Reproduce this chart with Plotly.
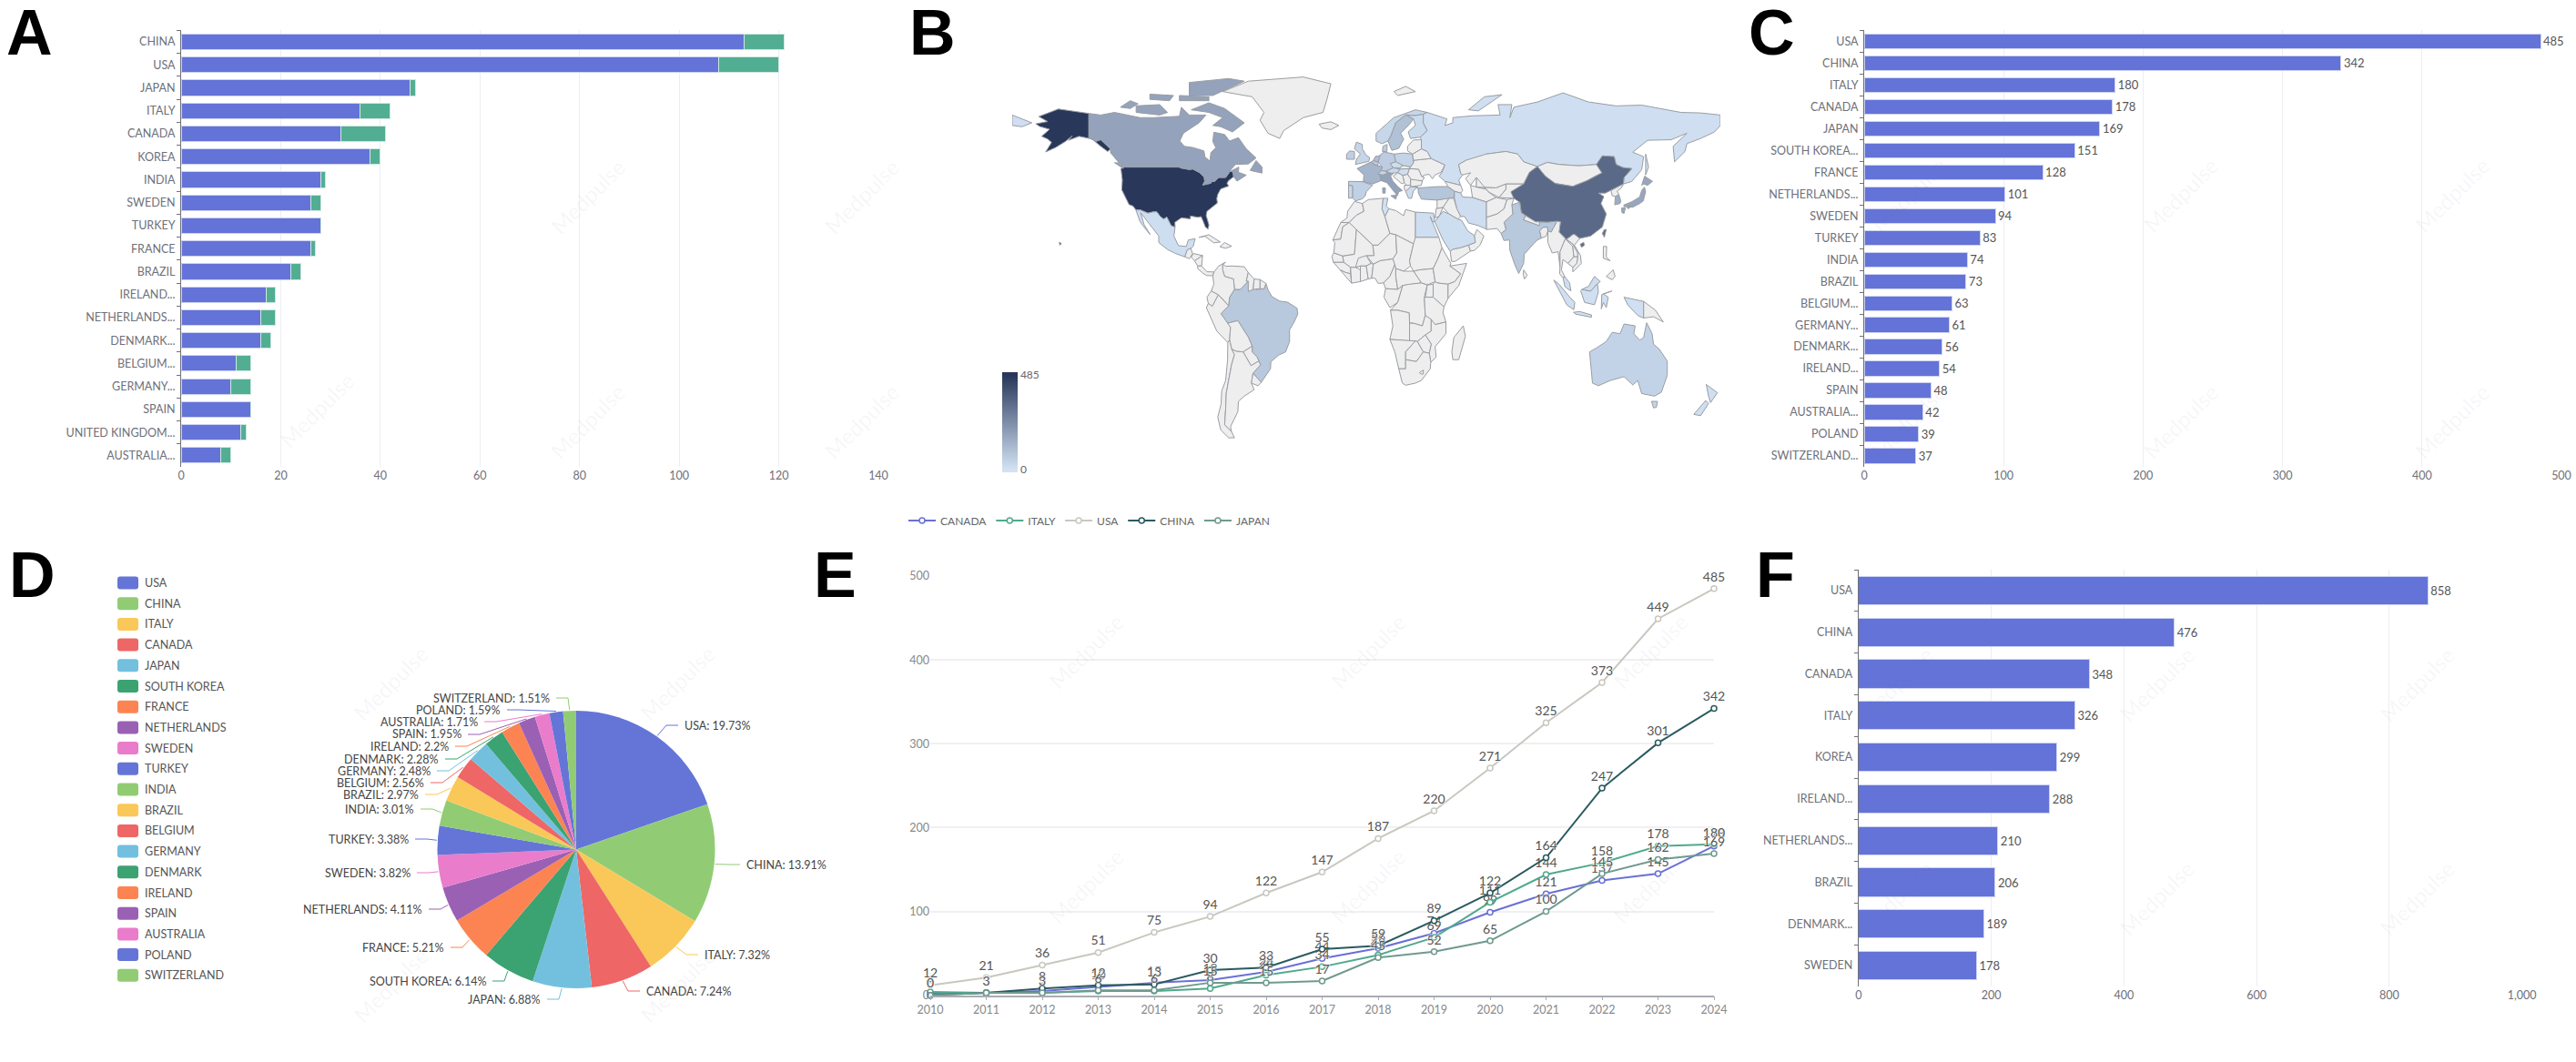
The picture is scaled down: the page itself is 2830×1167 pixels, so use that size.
import math

import plotly.graph_objects as go
from plotly.colors import sample_colorscale

W, H = 2830, 1167
FONT = "Lato"
BAR_BLUE = "#6473d7"
BAR_GREEN = "#52ae93"
AXIS_GREY = "#6e7079"
GRID = "#eceef2"

# Panel A: publications by country, two stacked series
a_countries = ["CHINA", "USA", "JAPAN", "ITALY", "CANADA", "KOREA", "INDIA", "SWEDEN", "TURKEY", "FRANCE", "BRAZIL",
               "IRELAND...", "NETHERLANDS...", "DENMARK...", "BELGIUM...", "GERMANY...", "SPAIN", "UNITED KINGDOM...",
               "AUSTRALIA..."]
a_first = [113, 108, 46, 36, 32, 38, 28, 26, 28, 26, 22, 17, 16, 16, 11, 10, 14, 12, 8]
a_second = [8, 12, 1, 6, 9, 2, 1, 2, 0, 1, 2, 2, 3, 2, 3, 4, 0, 1, 2]

# Panel C
c_countries = ["USA", "CHINA", "ITALY", "CANADA", "JAPAN", "SOUTH KOREA...", "FRANCE", "NETHERLANDS...", "SWEDEN",
               "TURKEY", "INDIA", "BRAZIL", "BELGIUM...", "GERMANY...", "DENMARK...", "IRELAND...", "SPAIN",
               "AUSTRALIA...", "POLAND", "SWITZERLAND..."]
c_values = [485, 342, 180, 178, 169, 151, 128, 101, 94, 83, 74, 73, 63, 61, 56, 54, 48, 42, 39, 37]

# Panel D
d_countries = ["USA", "CHINA", "ITALY", "CANADA", "JAPAN", "SOUTH KOREA", "FRANCE", "NETHERLANDS", "SWEDEN", "TURKEY",
               "INDIA", "BRAZIL", "BELGIUM", "GERMANY", "DENMARK", "IRELAND", "SPAIN", "AUSTRALIA", "POLAND",
               "SWITZERLAND"]
d_shares = [19.73, 13.91, 7.32, 7.24, 6.88, 6.14, 5.21, 4.11, 3.82, 3.38, 3.01, 2.97, 2.56, 2.48, 2.28, 2.2, 1.95,
            1.71, 1.59, 1.51]
d_colors = ["#6475d7", "#91cc75", "#fac858", "#ee6666", "#73c0de", "#3ba272", "#fc8452", "#9a60b4", "#ea7ccc",
            "#6475d7", "#91cc75", "#fac858", "#ee6666", "#73c0de", "#3ba272", "#fc8452", "#9a60b4", "#ea7ccc",
            "#6475d7", "#91cc75"]

# Panel E
e_years = list(range(2010, 2025))
e_canada = [2, 3, 5, 10, 15, 18, 28, 44, 56, 74, 99, 121, 137, 145, 178]
e_italy = [4, 3, 3, 5, 5, 8, 24, 34, 48, 69, 111, 144, 158, 178, 180]
e_usa = [12, 21, 36, 51, 75, 94, 122, 147, 187, 220, 271, 325, 373, 449, 485]
e_china = [0, 3, 8, 12, 13, 30, 33, 55, 59, 89, 122, 164, 247, 301, 342]
e_japan = [0, 3, 3, 6, 6, 15, 15, 17, 45, 52, 65, 100, 145, 162, 169]

# Panel F
f_countries = ["USA", "CHINA", "CANADA", "ITALY", "KOREA", "IRELAND...", "NETHERLANDS...", "BRAZIL", "DENMARK...",
               "SWEDEN"]
f_values = [858, 476, 348, 326, 299, 288, 210, 206, 189, 178]

# Panel B: count per country, anything not listed has no value
map_values = {
    "USA": 485, "China": 342, "Italy": 180, "Canada": 178, "Japan": 169, "South Korea": 151, "France": 128,
    "Netherlands": 101, "Sweden": 94, "Turkey": 83, "India": 74, "Brazil": 73, "Belgium": 63, "Germany": 61,
    "Denmark": 56, "Ireland": 54, "Spain": 48, "Australia": 42, "Poland": 39, "Switzerland": 37, "UK": 35,
    "Norway": 30, "Portugal": 25, "Austria": 25, "Finland": 20, "Iran": 12, "Czechia": 12, "Malaysia": 12,
    "Mexico": 10, "Saudi Arabia": 10, "Greece": 10, "New Zealand": 8, "Egypt": 9, "Russia": 8, "Hungary": 8,
    "Indonesia": 5, "Tunisia": 4,
}
map_scale = [[0, "#d2e2f4"], [1, "#28375a"]]

# Coarse lon,lat outlines for panel B
country_shapes = {
    "USA": [
        "-124.7,48.4 -123,49 -95.2,49 -94.6,48.7 -89.6,48 -88.4,48.3 -84.8,46.9 -84.4,46.5 -82.5,45.3 -82.1,43.6 -83.1,42.1 -79,42.8 -79,43.3 -76.8,43.6 -75,45 -71.5,45 -70.3,46.2 -69.2,47.4 -67.8,47.1 -67.4,45.3 -70,43.8 -70.8,42.8 -70,41.7 -74,40.6 -75.5,38.5 -76,36.9 -75.7,35.2 -78,33.9 -81,32 -81.4,30.4 -80,26.8 -80.4,25.2 -81.8,26 -82.8,28 -84,30 -85.5,29.7 -89.4,30.2 -89.4,29.1 -94,29.5 -97.3,27.8 -97.2,25.9 -99.2,26.5 -101.4,29.8 -103,29 -104.7,30 -106.5,31.8 -108.2,31.8 -111,31.3 -114.8,32.5 -117.1,32.5 -118.5,34 -120.6,34.6 -122.4,37.6 -124.3,40.3 -124,44",
        "-141,69.6 -141,60.3 -137.5,58.9 -135,59.5 -130,55.9 -131.5,55 -135,57 -139.5,59.8 -146,60.8 -151.5,59.3 -149.5,61 -153,58.8 -158,56.5 -163,54.8 -160,58.5 -162,59.8 -165,60.8 -161,63.5 -166,64.6 -168,65.6 -162,66.5 -166.5,68.4 -156.5,71.3 -149,70.4",
        "-156,20.2 -155,19.6 -155.8,19 -156,19.6",
    ],
    "Canada": [
        "-141,69.6 -135,69 -128,70 -115,68 -108,68 -95,68.5 -94,72 -90,69 -81.5,69 -85,66 -87,65 -93,62 -94.8,59 -92.5,57 -88,56.5 -82.5,55.2 -82,52.9 -79.5,51.3 -79,54.5 -76.5,56.5 -78,58.8 -77.5,62.4 -72,61.5 -69.5,59 -65,60.3 -61,56 -56,52.5 -60,50.2 -66.5,50 -70,47 -64.8,49 -65,47 -61,45.9 -65.7,43.6 -67.4,45.3 -67.8,47.1 -69.2,47.4 -70.3,46.2 -71.5,45 -75,45 -76.8,43.6 -79,43.3 -79,42.8 -83.1,42.1 -82.1,43.6 -82.5,45.3 -84.4,46.5 -84.8,46.9 -88.4,48.3 -89.6,48 -94.6,48.7 -95.2,49 -123,49 -125,50 -130,54.5 -130,55.9 -135,59.5 -137.5,58.9 -141,60.3",
        "-62,66 -68,62.5 -74,64.5 -78,65 -73,68 -80,70 -89,71 -80,73.7 -72,71.5",
        "-117,70 -105,69 -101,70 -105,73 -117,72.5",
        "-125,72 -120,71.5 -116,73.3 -120,74.5",
        "-90,76.5 -78,76.5 -62,82 -70,83 -90,81.5",
        "-95,74.5 -80,74.5 -80,76 -95,76.5",
        "-110,75 -100,74.5 -98,76.5 -110,77",
        "-59,47.7 -53,46.7 -53,49 -56,51.5",
        "-128,50.7 -123.5,48.4 -125,50.5",
    ],
    "Greenland": ["-73,78 -60,82 -32,83.6 -18,81 -20,75 -22,70 -32,68 -42,63 -44,60 -50,62 -54,67 -52,70 -58,76"],
    "Mexico": ["-117.1,32.5 -114.8,32.5 -111,31.3 -108.2,31.8 -106.5,31.8 -104.7,30 -103,29 -101.4,29.8 -99.2,26.5 -97.2,25.9 -97.8,22.5 -95.5,18.8 -91.5,18.5 -90.5,21 -87,21.5 -88,18.5 -89,17.9 -91,17.2 -92.2,14.5 -97,15.8 -101,17.3 -105.5,20 -105.5,22.5 -109.5,26.5 -112.8,30 -114.7,31.5 -113,27 -109.8,23 -112,25 -115,28"],
    "Guatemala": ["-92.2,14.5 -91,17.2 -89.2,17.8 -88.3,15.7 -90,13.8"],
    "Honduras": ["-89,14.3 -88,15.8 -83.2,15 -87.3,13"],
    "Nicaragua": ["-87.3,13 -83.2,15 -83.7,11 -85.7,11"],
    "Panama": ["-85.7,11 -83.7,11 -81,8.8 -77.4,8.7 -78,7.3 -81,7.3 -83,8.2 -85.7,10"],
    "Cuba": ["-85,22 -80,23 -74.2,20.2 -77.5,19.9 -82,22.4"],
    "Hispaniola": ["-74.4,18.4 -72,20 -68.4,18.6 -71.5,17.8"],
    "Brazil": ["-60,5.2 -56,2 -52,2.2 -51,4.3 -49.9,1.7 -48,-0.7 -44,-2.5 -40,-2.9 -35.2,-5.2 -34.8,-7.5 -37,-11 -39,-13.5 -39,-18 -41,-22 -44.5,-23.2 -48.5,-25.8 -48.7,-28.5 -52,-32.2 -53.4,-33.7 -57.6,-30.2 -53.8,-27 -54.6,-25.5 -55.5,-24 -58,-22 -58,-19.8 -60,-16.3 -65.3,-10 -70.5,-11 -73.9,-7.3 -70,-4.3 -69.5,-1 -67,2 -64,2"],
    "Venezuela": ["-73,11.8 -71.5,10.9 -68,11 -62,10.7 -60,8.5 -61,5.2 -60,5.2 -64,2 -67,2 -67.5,6 -72,7 -73,9.5"],
    "Guyana": ["-60,8.5 -57,6 -57.5,2 -60,1.2 -60,5.2 -61,5.2"],
    "Suriname": ["-57,6 -54,5.8 -54,2.3 -56,2 -57.5,2"],
    "French Guiana": ["-54,5.8 -51,4.3 -52,2.2 -54,2.3"],
    "Colombia": ["-77.4,8.7 -75,11 -71.5,12.4 -73,11.8 -73,9.5 -72,7 -67.5,6 -67,2 -69.5,-1 -70,-4.3 -72,-2.5 -75.2,-0.1 -78.8,1.4 -77.5,4 -78,7.3"],
    "Ecuador": ["-78.8,1.4 -75.2,-0.1 -78.3,-4.5 -80.3,-3.4 -81,-1"],
    "Peru": ["-80.3,-3.4 -78.3,-4.5 -75.2,-0.1 -72,-2.5 -70,-4.3 -73.9,-7.3 -70.5,-11 -69,-12.5 -69.5,-17.5 -70.4,-18.4 -76,-14 -81.3,-5"],
    "Bolivia": ["-69,-12.5 -70.5,-11 -65.3,-10 -60,-16.3 -58,-19.8 -62.6,-22 -66,-21.8 -68.4,-21 -69.5,-17.5"],
    "Paraguay": ["-62.6,-22 -58,-19.8 -58,-22 -55.5,-24 -54.6,-25.5 -58.6,-27.3"],
    "Chile": ["-69.5,-17.5 -70.4,-18.4 -70.5,-25 -71.5,-33 -73.5,-37 -73.8,-42 -75.5,-47 -74,-52 -70,-55 -67,-55 -68.6,-52.5 -72,-50 -71.5,-44 -71.2,-38 -70,-33 -68.5,-27 -67,-23 -68.4,-21"],
    "Argentina": ["-66,-21.8 -62.6,-22 -58.6,-27.3 -54.6,-25.5 -53.8,-27 -57.6,-30.2 -58.4,-34 -57,-36.5 -62,-39 -65,-41 -65.3,-45 -69,-50.7 -68.6,-52.5 -72,-50 -71.5,-44 -71.2,-38 -70,-33 -68.5,-27 -67,-23 -68.4,-21"],
    "Uruguay": ["-57.6,-30.2 -53.4,-33.7 -55,-35 -58.4,-34"],
    "Iceland": ["-24,65.5 -18,66.4 -14,65 -18,63.4 -22.5,64"],
    "UK": ["-5.5,50 1.3,51.2 1.7,52.7 0,53.5 -2,56 -2,57.7 -5,58.6 -6,56 -3,54 -5,52"],
    "Ireland": ["-10,52 -6,52 -6,55 -8.5,55.2 -10,54"],
    "France": ["-1.5,43.4 3.2,42.5 7.5,43.8 7,45.9 8.2,49 4.2,50 2.5,51 -1.5,49.5 -4.7,48.4 -1.2,46"],
    "Spain": ["-9,43.5 -1.8,43.4 3.2,42 0,39.5 -0.5,38 -2,36.8 -5.5,36 -7,37.2 -7,41.8 -9,42"],
    "Portugal": ["-9,42 -7,41.8 -7,37.2 -9,37"],
    "Italy": ["7,45.9 7.5,43.8 10.5,43 12.5,41 15.8,38 16.5,39.5 18.4,40 16,41.5 13.5,43.6 12.4,45.5 13.7,46.5 10.5,47", "12.5,38 15.5,38.2 15,36.7", "8.3,41 9.7,41 9.6,39 8.4,39"],
    "Germany": ["6,51 6.8,53.5 9,54.8 14.2,54 15,51 12.2,50.3 13.8,48.7 10,47.4 7.5,47.6 8.2,49"],
    "Netherlands": ["3.4,51.4 4.7,53.1 7.1,53.4 6,51"],
    "Belgium": ["2.5,51 3.4,51.4 6,51 5.9,49.6 4.2,50"],
    "Switzerland": ["6,46.3 7.5,47.6 10,47.4 10.5,46.5 8.5,46"],
    "Austria": ["10,47.4 13.8,48.7 17,48.2 16,46.8 12.4,46.7"],
    "Denmark": ["8.2,55 8.5,57 10.6,57.7 10.5,55"],
    "Norway": ["5,59 5,62 14,68 25,71 31,70 29,69.3 25,68.8 20,69 15,66 12.5,61 11,59 8,58"],
    "Sweden": ["11,59 12.5,61 15,66 20,69 24,67.5 22,65.5 17.5,62 19,59.7 16.5,56.2 13,55.4"],
    "Finland": ["20.5,69 25,68.8 29,69.3 29,66 31,63 27.5,60.5 22.5,60 21.3,62.5 25,65 24,67.5"],
    "Svalbard": ["14,78 20,80 25,78 16,76.5"],
    "Poland": ["14.2,54 19,54.4 23.5,54 24,50.5 22.6,49.1 19,49.4 15,51"],
    "Czechia": ["12.2,50.3 15,51 18.8,49.6 17,48.7 13.8,48.7"],
    "Slovakia": ["17,48.7 18.8,49.6 22.6,49.1 22,48.4 17,48.2"],
    "Hungary": ["16,46.8 17,48.2 22,48.4 21,46.2 18.5,45.8"],
    "Romania": ["21,46.2 22,48.4 26.6,48.2 28.2,45.4 29.5,45 28.5,43.7 23,43.8 22.5,44.5"],
    "Bulgaria": ["22.5,44.3 28.5,43.7 28,42 22.5,41.4"],
    "Greece": ["20,39.7 22.5,41.4 26.3,41.3 24,40 23,37 21.5,37"],
    "Serbia": ["18.5,45.8 21,46.2 22.5,44.5 22.5,41.9 20.5,42 19.3,43"],
    "Croatia": ["13.7,45.5 16,46.8 18.5,45.8 19.3,43 18,42.6 14.8,45"],
    "Albania": ["19.3,42 22.5,42 22.5,41.4 20,39.7 19.4,40.5"],
    "Ukraine": ["22.6,49.1 24,50.5 24,51.6 33,52.3 40,49.8 38,47 35,46 33.6,44.5 32,46.2 30,46 28.2,45.4 26.6,48.2 22,48.4"],
    "Belarus": ["23.5,54 24,51.6 33,52.3 31,55 28,56 25,54.5"],
    "Baltics": ["21,55.2 21,57 24,59.4 28,59.5 28,56 25,54.5 23.5,54"],
    "Russia": [
        "28,59.5 27.5,60.5 31,63 29,66 29,69.3 31,70 41,67.5 40,65 44,66 44,68 54,68.7 68,69 67,73 74,73 73,68 75,72 87,74 100,77.5 113,74 127,72.5 140,72.8 160,70 170,69.8 180,69 180,65 177,62.5 170,60 163,58 162,55 156.7,51 156,57 163,62 155,59.5 143,59.3 135.5,54.7 141,53 140,48 135,43.5 130.7,42.5 131,45 135,48.4 130.5,48.8 127,50 126,53 120,53.3 117,50 108,49.5 98,50 92,50.8 87,49.2 80,51 77,54 71,55 61,54 59,51 51,51.7 47,50 48,46.5 49,46 47,44 48,42 40,43.5 37,45.5 38.5,47 40,49.8 33,52.3 31,55 28,56",
        "-180,69 -170,66 -175,64.5 -180,65",
        "142,54 143.5,49 142,46 142,50",
        "52,71 57,70.6 69,76.8 60,76",
    ],
    "Caucasus": ["40,43.5 48,42 49,40 48,39 44.8,39.7 41.5,41.5"],
    "Turkey": ["26.3,41 26.5,39 28,36.7 36,36.3 44.5,37 44.8,39.7 41.5,41.5 36,41.5 31,41.2 28,41"],
    "Kazakhstan": ["47,50 51,51.7 61,54 71,55 77,54 80,51 87,49.2 83,47 80,42.5 71,42.5 66,41 56,41.3 56,45 53,42 50.5,44.5 53,46.8 49,46 48,46.5"],
    "Uzbekistan": ["56,45 56,41.3 66,41 71,42.5 71,40.5 67.5,37.3 62,39.5 61,40.5"],
    "Turkmenistan": ["53,42 56,41.3 61,40.5 62,39.5 66,37.3 61,35.6 54,37.3"],
    "Kyrgyzstan": ["71,42.5 80,42.5 74,39.5 75,37 67.5,37.3 71,40.5"],
    "Mongolia": ["87,49.2 92,50.8 98,50 108,49.5 117,50 119.8,46.8 112,43.7 105,41.6 96,42.7 91,45.5"],
    "China": [
        "73.5,39.5 80,42.5 83,47 87,49.2 91,45.5 96,42.7 105,41.6 112,43.7 119.8,46.8 117,50 120,53.3 126,53 127,50 130.5,48.8 135,48.4 131,45 130.7,42.5 124.4,40 121.5,39 118,39 120.8,37.7 119.3,35 122,31 120,26 114,22.5 108.5,21.6 105.5,23.3 101.8,21.2 98,24 98.7,28 92,27.8 86,28 81,30.3 78.8,31.5 78,35.5 75,37",
        "108.7,19.3 110.5,20.1 110.9,19 109.5,18.2",
        "121,25 122,25 121,22 120,23.5",
    ],
    "India": ["74,34.5 78,35.5 78.8,31.5 81,30.3 80,28.7 88,26.5 88.1,27.9 92,27.8 97,28.2 94,24 92.3,24.5 92,26 89.8,25.8 88.2,24.5 89,21.7 87,21 85,19.5 80.3,15.5 80,12 77.5,8.1 75.5,11.5 73,17 72.8,21 70,20.8 68.5,23.5 71,25 70,27.8 74.5,31"],
    "Pakistan": ["61,25 66.5,25.4 68.5,23.5 71,25 70,27.8 74.5,31 74,34.5 75,37 71.5,36.5 70,33 66.5,31 61,29.7"],
    "Afghanistan": ["61,35.6 66,37.3 71.5,36.5 70,33 66.5,31 61,29.7"],
    "Iran": ["44.8,39.7 48,39 49,37.5 54,37.3 61,35.6 61,25.2 57,26.5 52,27.5 50,30 48,30 46,33 44.8,37"],
    "Iraq": ["39,33.5 42,37 44.5,37 46,33 48,30 46.5,29 42,31"],
    "Syria": ["36,33 36,36.3 42,37 39,33.5"],
    "Jordan": ["35,29.5 35.5,33 39,33.5 37,30"],
    "Saudi Arabia": ["34.8,28 37,30 39,32 42,31 46.5,29 48.5,28.5 50,26.5 51.5,24.5 55,22.7 55.5,20 52,19 48,18 44,17.4 42.7,16.6 39,21 37,24.5"],
    "Yemen": ["42.7,16.6 44,17.4 48,18 52,19 53,16.7 45,12.7 43.3,12.8"],
    "Oman": ["52,19 55.5,20 55,22.7 56.3,25 59.8,22.5 57.8,19 55,17 53,16.7"],
    "Bangladesh": ["88.2,24.5 89.8,25.8 92,26 92.3,24.5 91.5,22.5 89,21.7"],
    "Nepal": ["80,28.7 81,30.3 86,28 88.1,27.9 88,26.5"],
    "Myanmar": ["92.3,20 92.3,24.5 94,24 97,28.2 98.7,28 98,24 101.2,21.5 98.5,16.5 98.5,10.5 97.5,16.5 94.5,16"],
    "Thailand": ["98.5,16.5 101.2,21.5 105,18.5 105.5,14.5 102.5,12 100,13.5 99.2,9.5 101,6.8 100,6.5 98.3,8 98.5,10.5"],
    "Laos": ["101.2,21.5 101.8,21.2 105,19.5 107.5,16 107.5,14.5 105.5,14.5 105,18.5"],
    "Vietnam": ["105.5,23.3 108.5,21.6 105.8,19 108.9,15 109.3,12 105,8.7 105,10.5 107,12 107.5,14.5 107.5,16 105,19.5 101.8,21.2"],
    "Cambodia": ["102.5,12 105.5,14.5 107.5,14.5 107,12 105,10.5"],
    "Malaysia": ["100,6.5 101,6.8 103.4,4.5 104,1.4 101,3", "109.6,2 111.3,2.7 113,3.2 116,7 119,5 117.5,4.2 114,1.3"],
    "Indonesia": [
        "109,1.5 109.6,2 114,1.3 117.5,4.2 118,1 116,-3.9 111,-3 110,-1",
        "95.3,5.6 98,4 103.5,-1 106,-3 105.5,-5.8 102,-4 98.5,1",
        "105.3,-6.8 108.5,-6.5 114.5,-7.8 114.5,-8.7 106.5,-7.5",
        "119.5,-5.5 119.7,0 124.9,1.4 120.5,0.3 123,-1 122,-5 120.5,-3",
        "131,-1 141,-2.6 141,-9 138,-8 133,-4",
    ],
    "Papua New Guinea": ["141,-2.6 147,-6 151,-10.5 146,-8.5 141,-9"],
    "Philippines": ["120.5,18.5 122.2,18.5 122,14.5 124,13 120.5,14", "122,7 125.5,9.5 126.5,7 125,5.7"],
    "South Korea": ["126.3,34.5 126.6,37.7 128.4,38.5 129.4,36 129,35"],
    "North Korea": ["124.4,40 130.7,42.5 129.7,41 127.5,39.8 128.4,38.5 126.6,37.7 125,38"],
    "Japan": [
        "130.9,34.4 135,35.7 139,37.5 140,40 141.4,41.3 142,39.5 140.8,36 139,35 135.5,33.6 131,33.9",
        "129.8,33.3 131.8,33.5 131,31.2 130,31.5",
        "140,42 141.5,45.5 145.5,43.5 143,42 141,42.5",
        "132.5,33.9 134.5,34.1 134,33.4 133,33",
    ],
    "Sri Lanka": ["80,9.5 81.8,7.5 80.5,6 79.8,7.5"],
    "Morocco": ["-13,27.7 -9.8,29.5 -9.5,32 -6,35.8 -2,35 -1.2,32 -5,30.5 -8.7,27.7"],
    "Western Sahara": ["-17,21 -13,27.7 -8.7,27.7 -12,26 -13,21.3"],
    "Algeria": ["-8.7,27.7 -5,30.5 -1.2,32 -2,35 1,36.5 8.6,37 8,33 9.5,30 12,23.5 6,19 3.3,19 -5,25"],
    "Tunisia": ["8.6,37 11,37 10.2,34 11.5,33 9.5,30 8,33"],
    "Libya": ["11.5,33 15,32.3 19,30.3 20,32.7 25,31.7 25,20 24,19.5 15,23 12,23.5 9.5,30"],
    "Egypt": ["25,31.7 31,31.5 34.2,31.3 34.8,28 33.5,28 32.5,30 36.9,22 25,22"],
    "Mauritania": ["-16.5,16 -16,20 -17,21 -13,21.3 -12,26 -8.7,27.7 -5,25 -6,15.5 -12,14.8"],
    "Mali": ["-12,14.8 -6,15.5 -5,25 3.3,19 4,15 0,14.9 -3,11 -5.5,10.5 -8,10.5 -11.5,12.4"],
    "Niger": ["3.3,19 6,19 12,23.5 15,23 15.5,16 13.5,13.7 7,13 3.6,11.7 0,14.9 4,15"],
    "Chad": ["15,23 24,19.5 22,13 22.5,11 19,9 15,10 13.5,13.7 15.5,16"],
    "Sudan": ["24,19.5 25,22 36.9,22 38.5,18 36.5,14 34,10 27,9.5 24,9 22.5,11 22,13"],
    "South Sudan": ["24,9 27,9.5 34,10 35,5 31,3.7 28,4.5"],
    "Ethiopia": ["36.5,14 38.5,18 43,12 42.5,11 48,8 45,5 41.5,4 36,4.5 35,5 34,10"],
    "Somalia": ["42.5,11 51,12 47,3.5 41.5,-1.5 41.5,4 45,5 48,8"],
    "Kenya": ["35,5 36,4.5 41.5,4 41.5,-1.5 39.5,-4.7 34,-1 34,4"],
    "Senegal": ["-17.5,14.7 -16.5,16 -12,14.8 -11.5,12.4 -16.7,12.4"],
    "Guinea": ["-16.7,12.4 -11.5,12.4 -8,10.5 -8,8 -10.5,8.5 -13.3,9.5"],
    "Liberia": ["-13.3,9.5 -10.5,8.5 -8,8 -7.5,4.4"],
    "Ivory Coast": ["-8,10.5 -5.5,10.5 -3,9.5 -3,5 -7.5,4.4 -8,8"],
    "Burkina Faso": ["-5.5,10.5 -4,14 0,15 2.4,12 0,11 -3,11"],
    "Ghana": ["-3,11 0,11 1,6 -3,5"],
    "Benin": ["0,11 2.4,12 3.6,11.7 2.7,6.3 1,6"],
    "Nigeria": ["2.7,6.3 3.6,11.7 7,13 13.5,13.7 14.5,11.5 12,7 8.8,4.5 6,4.3 4.5,6.3"],
    "Cameroon": ["8.8,4.5 12,7 14.5,11.5 15,10 15,7 16,2 9.8,2.3"],
    "Central African Republic": ["15,7 15,10 19,9 24,9 28,4.5 22,4 18.5,3.5 16,2"],
    "Gabon": ["9.8,2.3 16,2 18.5,3.5 16,-3 12,-5 9,-1"],
    "DR Congo": ["18.5,3.5 22,4 28,4.5 31,3.7 29.5,-1 30,-8 28.5,-12 24,-11 22,-11 21.8,-7 16,-6 12.3,-6 16,-3"],
    "Uganda": ["31,3.7 34,4 34,-1 30,-1"],
    "Tanzania": ["34,-1 39.5,-4.7 39,-7 40.5,-10.5 35,-11.5 30,-8 29.5,-1"],
    "Angola": ["12.3,-6 16,-6 21.8,-7 22,-11 24,-11 22,-13 22,-17.8 12,-17.2 13.5,-12"],
    "Zambia": ["22,-11 24,-11 28.5,-12 30,-8 33,-9.5 33,-14 30,-15.5 26,-18 22,-17.8 22,-13"],
    "Mozambique": ["33,-9.5 35,-11.5 40.5,-10.5 40.5,-15 35,-20 35.5,-24 32.8,-26 32,-22.5 33,-19 30,-15.5 33,-14"],
    "Namibia": ["12,-17.2 22,-17.8 25,-17.8 20,-22 20,-28.5 16.5,-28.5 14.5,-22"],
    "Botswana": ["20,-22 25,-17.8 26,-18 29,-22 25.5,-25.7 20,-25"],
    "Zimbabwe": ["26,-18 30,-15.5 33,-19 32,-22.5 29,-22"],
    "South Africa": ["16.5,-28.5 20,-28.5 20,-25 25.5,-25.7 29,-22 32,-22.5 32.8,-26 32.5,-28.5 28,-33 25,-34 20,-34.8 18.3,-34"],
    "Lesotho": ["27,-30 29,-29 29,-30.5 28,-30.5"],
    "Madagascar": ["49.3,-12 50.4,-16 47,-25 44,-25 43.5,-22 44.5,-16.5"],
    "Australia": ["113.5,-22 114,-26 115,-34 118,-35 124,-33 131,-31.5 135.5,-34.7 138,-33 140,-38 146.5,-39 150,-37.5 153,-31 153,-25.5 149,-21 146,-19 145.3,-15 142.5,-10.8 141,-16.5 139,-17.5 136,-15 136.7,-12 131,-11.3 129,-15 125,-14.5 122,-18 117,-20.5", "145,-41 148,-41 147.5,-43.3 146,-43.5"],
    "New Zealand": ["172.8,-34.5 178.5,-37.7 175,-41.5 174,-39", "172.5,-40.7 174,-41.8 170,-46.5 166.5,-46"],
}

# Pixel positions of the pie labels: near end of the text, vertical centre
pie_label_pos = [(750, 797), (818, 950), (772, 1049), (708, 1089), (596, 1098), (536, 1078), (490, 1041), (466, 999),
                 (453, 959), (451, 922), (457, 889), (462, 873), (468, 860), (475, 847), (484, 834), (495, 820),
                 (509, 807), (527, 793), (552, 780), (606, 767)]
pie_center = (633, 933.4)
pie_radius = 152.5

watermarks = [(596, 166), (897, 166), (298, 450), (596, 463), (897, 463),
              (2147, 164), (2446, 164), (2744, 164), (2147, 463), (2446, 463), (2744, 463),
              (379, 800), (694, 800), (379, 1132), (694, 1132),
              (1193, 715), (1503, 715), (1813, 715), (1193, 1023), (1503, 1023), (1813, 1023),
              (2132, 751), (2419, 751), (2705, 751), (2132, 1036), (2419, 1036), (2705, 1036)]
panel_letters = [("A", 32, 36), ("B", 1024, 36), ("C", 1947, 36), ("D", 35, 632), ("E", 917, 632), ("F", 1950, 632)]


def px(x):
    return x / W


def py(y):
    return 1 - y / H


def dom_x(a, b):
    return [px(a), px(b)]


def dom_y(top, bottom):
    return [py(bottom), py(top)]


def parse_ring(ring):
    pts = [p.split(",") for p in ring.split()]
    xs = [float(p[0]) for p in pts]
    ys = [float(p[1]) for p in pts]
    return xs + [xs[0]], ys + [ys[0]]


fig = go.Figure()

# A
fig.add_trace(go.Bar(y=a_countries, x=a_first, orientation="h", marker=dict(color=BAR_BLUE, line=dict(color="#ccd2f3", width=1)),
                     xaxis="x", yaxis="y", showlegend=False))
fig.add_trace(go.Bar(y=a_countries, x=a_second, orientation="h", marker=dict(color=BAR_GREEN, line=dict(color="#cfe8df", width=1)),
                     xaxis="x", yaxis="y", showlegend=False))

# C
fig.add_trace(go.Bar(y=c_countries, x=c_values, orientation="h", marker=dict(color=BAR_BLUE, line=dict(color="#ccd2f3", width=1)),
                     text=c_values, textposition="outside", cliponaxis=False,
                     textfont=dict(size=13, color="#555555", family=FONT), xaxis="x2", yaxis="y2", showlegend=False))

# F
fig.add_trace(go.Bar(y=f_countries, x=f_values, orientation="h", marker=dict(color=BAR_BLUE, line=dict(color="#ccd2f3", width=1)),
                     text=f_values, textposition="outside", cliponaxis=False,
                     textfont=dict(size=13, color="#555555", family=FONT), xaxis="x4", yaxis="y4", showlegend=False))

# E
line_series = [("CANADA", e_canada, "#6a70d5"), ("ITALY", e_italy, "#4fa98c"), ("USA", e_usa, "#c8c8c0"),
               ("CHINA", e_china, "#2a5a60"), ("JAPAN", e_japan, "#6f9a8f")]
for name, vals, col in line_series:
    fig.add_trace(go.Scatter(x=e_years, y=vals, name=name, mode="lines+markers+text", text=vals,
                             textposition="top center", cliponaxis=False,
                             textfont=dict(size=14, color="#555555", family=FONT, shadow="0 0 2px #fff, 0 0 2px #fff, 0 0 2px #fff"),
                             line=dict(color=col, width=2),
                             marker=dict(symbol="circle", size=6, color="white", line=dict(color=col, width=1.5)),
                             xaxis="x3", yaxis="y3"))

# D
fig.add_trace(go.Pie(labels=d_countries, values=d_shares, sort=False, direction="clockwise", rotation=0,
                     marker=dict(colors=d_colors), textinfo="none", showlegend=False,
                     domain=dict(x=dom_x(pie_center[0] - pie_radius, pie_center[0] + pie_radius),
                                 y=dom_y(pie_center[1] - pie_radius, pie_center[1] + pie_radius))))

# B
for name, rings in country_shapes.items():
    xs, ys = [], []
    for ring in rings:
        rx, ry = parse_ring(ring)
        xs += rx + [None]
        ys += ry + [None]
    if name in map_values:
        fill = sample_colorscale(map_scale, map_values[name] / 485)[0]
    else:
        fill = "#eeeeee"
    fig.add_trace(go.Scatter(x=xs, y=ys, name=name, mode="lines", fill="toself", fillcolor=fill,
                             line=dict(color="#9a9da3", width=1), xaxis="x5", yaxis="y5", showlegend=False,
                             hoverinfo="name"))

# invisible points, only there to carry the map's colour bar
fig.add_trace(go.Scatter(x=[0, 0], y=[-72, -72], mode="markers", showlegend=False, hoverinfo="skip", xaxis="x5", yaxis="y5",
                         marker=dict(size=1, opacity=0, color=[0, 485], colorscale=map_scale, cmin=0, cmax=485, showscale=True,
                                     colorbar=dict(x=px(1101), xanchor="left", y=py(463.5), yanchor="middle", thickness=17,
                                                   lenmode="pixels", len=104, tickvals=[0, 485], ticks="", outlinewidth=0,
                                                   tickfont=dict(size=12, color="#666666", family=FONT), xpad=0, ypad=0))))

annotations = []
shapes = []

# pie labels with leader lines, edge points follow the slice angles
total = sum(d_shares)
run = 0
for name, share, col, (lx, ly) in zip(d_countries, d_shares, d_colors, pie_label_pos):
    ang = math.radians((run + share / 2) / total * 360)
    run += share
    ex = pie_center[0] + (pie_radius + 1) * math.sin(ang)
    ey = pie_center[1] - (pie_radius + 1) * math.cos(ang)
    right = lx > pie_center[0] + 20
    sign = -1 if right else 1
    path = f"M {px(ex)} {py(ey)} L {px(lx + sign * 18)} {py(ly)} L {px(lx + sign * 5)} {py(ly)}"
    shapes.append(dict(type="path", path=path, xref="paper", yref="paper", line=dict(color=col, width=1)))
    annotations.append(dict(text=f"{name}: {share}%", x=px(lx), y=py(ly), xref="paper", yref="paper", showarrow=False,
                            xanchor="left" if right else "right", yanchor="middle",
                            font=dict(size=12.5, color="#444444", family=FONT)))

# pie legend column
for i, (name, col) in enumerate(zip(d_countries, d_colors)):
    cy = 640.5 + i * 22.7
    l, r, t, b, c = px(129), px(152), py(cy - 7), py(cy + 7), 3
    cx_, cy_ = c / W, c / H
    path = (f"M {l + cx_} {t} L {r - cx_} {t} Q {r} {t} {r} {t - cy_} L {r} {b + cy_} Q {r} {b} {r - cx_} {b} "
            f"L {l + cx_} {b} Q {l} {b} {l} {b + cy_} L {l} {t - cy_} Q {l} {t} {l + cx_} {t} Z")
    shapes.append(dict(type="path", path=path, xref="paper", yref="paper", fillcolor=col, line=dict(width=0)))
    annotations.append(dict(text=name, x=px(157), y=py(cy), xref="paper", yref="paper", showarrow=False,
                            xanchor="left", yanchor="middle", font=dict(size=12.5, color="#555555", family=FONT)))

# map colour bar end handles
shapes.append(dict(type="rect", xref="paper", yref="paper", x0=px(1101), x1=px(1118), y0=py(409), y1=py(414),
                   fillcolor="#28375a", line=dict(width=0)))
shapes.append(dict(type="rect", xref="paper", yref="paper", x0=px(1101), x1=px(1118), y0=py(514), y1=py(519),
                   fillcolor="#d2e2f4", line=dict(width=0)))

for x, y in watermarks:
    annotations.append(dict(text="Medpulse", x=px(x), y=py(y), xref="paper", yref="paper", showarrow=False, textangle=-45,
                            font=dict(size=24, color="rgba(110,110,140,0.06)", family=FONT)))

for letter, x, y in panel_letters:
    annotations.append(dict(text=f"<b>{letter}</b>", x=px(x), y=py(y), xref="paper", yref="paper", showarrow=False,
                            xanchor="center", yanchor="middle", font=dict(size=70, color="black", family="Liberation Sans")))

tick_font = dict(size=12.5, color=AXIS_GREY, family=FONT)
value_axis = dict(showgrid=True, gridcolor=GRID, gridwidth=1, zeroline=False, showline=False, ticks="", tickfont=tick_font,
                  tickformat=",")
cat_axis = dict(autorange="reversed", showline=True, linecolor=AXIS_GREY, linewidth=1, ticks="outside", ticklen=4,
                tickcolor=AXIS_GREY, tickson="boundaries", tickfont=tick_font, showgrid=False, type="category", ticklabelstandoff=3)

fig.update_layout(
    width=W, height=H, autosize=False, margin=dict(l=0, r=0, t=0, b=0, autoexpand=False), paper_bgcolor="white", plot_bgcolor="white",
    font=dict(family=FONT), barmode="stack", bargap=0.32, showlegend=True,
    legend=dict(orientation="h", traceorder="normal", x=px(993), y=py(572), xanchor="left", yanchor="middle",
                font=dict(size=12, color="#666666", family=FONT), bgcolor="rgba(0,0,0,0)"),
    xaxis=dict(domain=dom_x(199, 965), range=[0, 140], dtick=20, anchor="y", **value_axis),
    yaxis=dict(domain=dom_y(33.4, 513), anchor="x", **cat_axis),
    xaxis2=dict(domain=dom_x(2048, 2814), range=[0, 500], dtick=100, anchor="y2", **value_axis),
    yaxis2=dict(domain=dom_y(33.4, 513), anchor="x2", **cat_axis),
    xaxis3=dict(domain=dom_x(1022, 1883), range=[2010, 2024], dtick=1, anchor="y3", showgrid=False, zeroline=False, showline=True,
                linecolor="#a9acb3", linewidth=1.5, ticks="outside", ticklen=4, tickcolor="#a9acb3", tickfont=dict(size=12.5, color="#888888", family=FONT)),
    yaxis3=dict(domain=dom_y(633, 1093.7), range=[0, 500], dtick=100, anchor="x3", showgrid=True, gridcolor="#f0f0f2", gridwidth=2, zeroline=False,
                showline=False, ticks="", tickfont=dict(size=12.5, color="#888888", family=FONT)),
    xaxis4=dict(domain=dom_x(2041.8, 2770.7), range=[0, 1000], dtick=200, anchor="y4", **value_axis),
    yaxis4=dict(domain=dom_y(626, 1084), anchor="x4", **cat_axis),
    xaxis5=dict(domain=dom_x(1112, 1890), range=[-180, 180], visible=False, anchor="y5"),
    yaxis5=dict(domain=dom_y(40, 540), range=[-75.6, 99.2], visible=False, anchor="x5"),
    annotations=annotations, shapes=shapes,
)

fig.write_html("out.html", config=dict(displayModeBar=False),
               post_script="document.body.style.margin='0';document.body.style.overflow='hidden';")
